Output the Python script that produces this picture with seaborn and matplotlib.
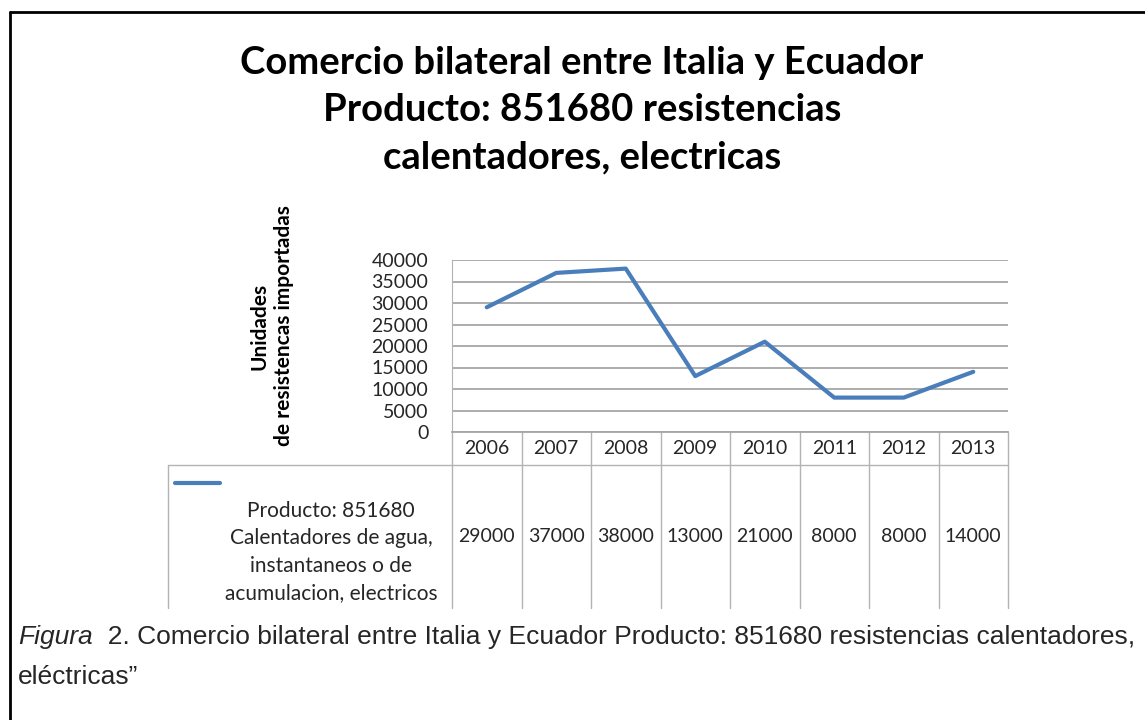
import matplotlib
matplotlib.use('Agg')
import matplotlib.pyplot as plt
import matplotlib.transforms as mtrans
from matplotlib.lines import Line2D
import pandas as pd
import seaborn as sns

# datos
years = ['2006', '2007', '2008', '2009', '2010', '2011', '2012', '2013']
unidades = [29000, 37000, 38000, 13000, 21000, 8000, 8000, 14000]
yticks = [0, 5000, 10000, 15000, 20000, 25000, 30000, 35000, 40000]
serie = 'Producto: 851680\nCalentadores de agua,\ninstantaneos o de\nacumulacion, electricos'
titulo = 'Comercio bilateral entre Italia y Ecuador\nProducto: 851680 resistencias\ncalentadores, electricas'
ylabel = 'Unidades\nde resistencas importadas'
pie1 = '  2. Comercio bilateral entre Italia y Ecuador Producto: 851680 resistencias calentadores,'
pie2 = 'eléctricas\u201d'

df = pd.DataFrame({'pos': range(len(years)), 'anio': years, 'unidades': unidades})

sns.set_style('white')
plt.rcParams['font.family'] = ['Lato', 'DejaVu Sans']

W, H = 1145, 720
def fx(px):
    return px / W
def fy(py):
    return 1 - py / H

fig = plt.figure(figsize=(11.45, 7.2), dpi=100)
ax = fig.add_axes([fx(452), fy(432), fx(1008) - fx(452), fy(260) - fy(432)])
sns.lineplot(data=df, x='pos', y='unidades', ax=ax, color='#4a7ebb', lw=3.0)
ax.set_xlim(-0.5, len(years) - 0.5)
ax.set_ylim(0, 40000)
ax.set_yticks(yticks)
ax.set_yticklabels([str(t) for t in yticks], fontsize=14, color='#262626')
ax.set_xticks([])
ax.set_xlabel('')
ax.set_ylabel('')
ax.yaxis.grid(True, color='#a6a6a6', lw=1.3)
ax.xaxis.grid(False)
ax.tick_params(axis='y', length=0, pad=17)
for s in ['top', 'right']:
    ax.spines[s].set_visible(False)
ax.spines['left'].set_color('#b3b3b3')
ax.spines['bottom'].set_color('#a6a6a6')
ax.spines['bottom'].set_linewidth(1.3)

# tabla de datos debajo del grafico
blend = mtrans.blended_transform_factory(ax.transData, fig.transFigure)
gris = '#b3b3b3'
for k in range(len(years) + 1):
    ax.plot([k - 0.5, k - 0.5], [fy(432), fy(608)], transform=blend, color=gris, lw=1, clip_on=False)
for i, (a, v) in enumerate(zip(years, unidades)):
    ax.text(i, fy(449), a, transform=blend, ha='center', va='center', fontsize=14, color='#262626')
    ax.text(i, fy(537), str(v), transform=blend, ha='center', va='center', fontsize=14, color='#262626')
fig.add_artist(Line2D([fx(168), fx(1008)], [fy(465), fy(465)], color=gris, lw=1))
fig.add_artist(Line2D([fx(168), fx(168)], [fy(465), fy(608)], color=gris, lw=1))
fig.add_artist(Line2D([fx(175), fx(220)], [fy(483), fy(483)], color='#4a7ebb', lw=3.0))
fig.text(fx(331), fy(552), serie, ha='center', va='center', fontsize=15, color='#262626', linespacing=1.47)

# titulo y etiqueta del eje
fig.text(fx(582), fy(110), titulo, ha='center', va='center', fontsize=27.5, fontweight='bold',
         linespacing=1.47, color='black')
fig.text(fx(272), fy(326), ylabel, rotation=90, ha='center', va='center', fontsize=15,
         fontweight='bold', multialignment='center', linespacing=1.3, color='black')

# pie de figura
t1 = fig.text(fx(18), fy(637), 'Figura', style='italic', fontsize=19, va='center', family='Liberation Sans')
r = fig.canvas.get_renderer()
bb = t1.get_window_extent(renderer=r)
fig.text(bb.x1 / W, fy(637), pie1, fontsize=19, va='center', family='Liberation Sans')
fig.text(fx(18), fy(677), pie2, fontsize=19, va='center', family='Liberation Sans')

# marco
fig.add_artist(Line2D([fx(10), 1], [fy(12), fy(12)], color='black', lw=2))
fig.add_artist(Line2D([fx(10), fx(10)], [fy(12), 0], color='black', lw=2))

fig.savefig('out.png', dpi=100)
